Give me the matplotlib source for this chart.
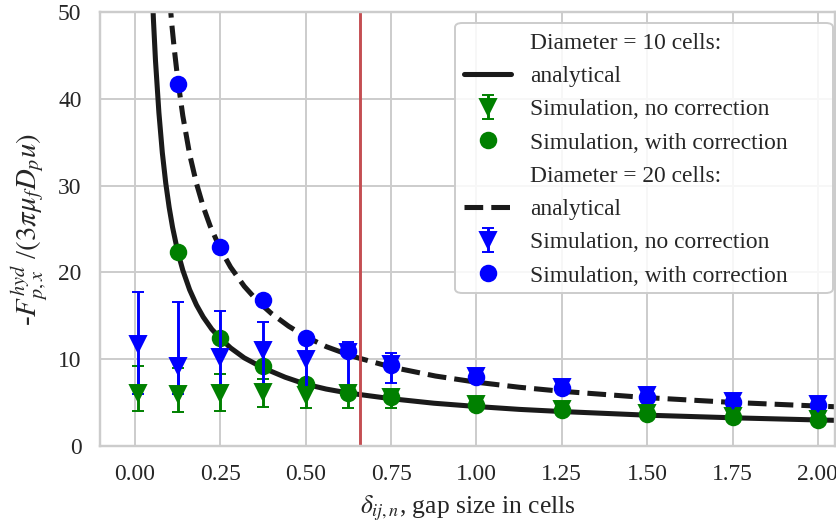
import numpy as np
import matplotlib
matplotlib.use("Agg")
import matplotlib.pyplot as plt
from matplotlib.patches import FancyBboxPatch
import seaborn as sns

# gap sizes of the simulated runs (cells)
gap = [0.01, 0.125, 0.25, 0.375, 0.5, 0.625, 0.75, 1.0, 1.25, 1.5, 1.75, 2.0]
gap_corr = gap[1:]

# Diameter = 10 cells
d10_nocorr = [6.07, 5.95, 6.1, 6.26, 5.9, 6.1, 5.7, 4.85, 4.3, 3.75, 3.45, 3.15]
d10_nocorr_lo = [4.07, 3.95, 4.0, 4.5, 4.4, 4.4, 4.4, 4.7, 4.15, 3.6, 3.3, 3.0]
d10_nocorr_hi = [9.18, 9.0, 8.26, 7.7, 6.8, 6.8, 6.0, 5.0, 4.45, 3.9, 3.6, 3.3]
d10_corr = [22.35, 12.5, 9.25, 7.1, 6.15, 5.6, 4.75, 4.2, 3.65, 3.35, 3.05]

# Diameter = 20 cells
d20_nocorr = [11.75, 9.2, 10.3, 11.06, 10.0, 10.8, 9.5, 8.1, 6.8, 5.85, 5.2, 4.8]
d20_nocorr_lo = [6.0, 6.0, 6.5, 6.6, 6.7, 6.9, 7.3, 7.9, 6.6, 5.65, 5.0, 4.6]
d20_nocorr_hi = [17.7, 16.55, 15.6, 14.3, 12.2, 12.0, 10.75, 8.3, 7.0, 6.05, 5.4, 5.0]
d20_corr = [41.66, 22.96, 16.8, 12.5, 10.98, 9.33, 7.95, 6.65, 5.7, 5.1, 4.7]

# analytical curves
an10_gap = [0.05, 0.054, 0.06, 0.07, 0.08, 0.09, 0.1, 0.11, 0.125, 0.14, 0.16, 0.18, 0.2,
            0.225, 0.25, 0.28, 0.32, 0.375, 0.44, 0.5, 0.56, 0.625, 0.75, 0.875, 1.0,
            1.125, 1.25, 1.5, 1.75, 2.0, 2.06]
an10_val = [52.9, 49.1, 44.4, 38.4, 33.8, 30.3, 27.5, 25.2, 22.4, 20.25, 18.0, 16.25, 14.85,
            13.45, 12.4, 11.3, 10.15, 9.0, 7.92, 7.12, 6.56, 6.1, 5.45, 4.93, 4.55,
            4.22, 3.97, 3.55, 3.25, 3.0, 2.95]
an20_gap = [0.1, 0.108, 0.115, 0.125, 0.14, 0.16, 0.18, 0.2, 0.22, 0.25, 0.28, 0.32, 0.36,
            0.4, 0.45, 0.5, 0.56, 0.64, 0.75, 0.88, 1.0, 1.125, 1.25, 1.5, 1.75, 2.0, 2.06]
an20_val = [52.2, 48.5, 45.75, 42.3, 38.05, 33.6, 30.25, 27.55, 25.35, 22.7, 20.6, 18.4, 16.65,
            15.25, 13.8, 12.6, 11.45, 10.3, 9.1, 8.06, 7.35, 6.77, 6.3, 5.57, 5.02, 4.6, 4.51]

threshold = 0.66

sns.set_theme(style="whitegrid", context="notebook", font_scale=1.1)
plt.rcParams["font.family"] = ["Liberation Serif", "DejaVu Serif"]
plt.rcParams["mathtext.fontset"] = "stix"

fig = plt.figure(figsize=(836 / 140, 529 / 140), dpi=140)
ax = fig.add_axes([100 / 836, 1 - 446 / 529, 735 / 836, 434 / 529])

def yerr(vals, lo, hi):
    v = np.array(vals)
    return [v - np.array(lo), np.array(hi) - v]

h = []
h.append(ax.plot([], [], " ", label="Diameter = 10 cells:")[0])
h.append(ax.plot(an10_gap, an10_val, "-", color="k", lw=2.6, label="analytical")[0])
h.append(ax.errorbar(gap, d10_nocorr, yerr=yerr(d10_nocorr, d10_nocorr_lo, d10_nocorr_hi),
                     fmt="v", color="green", ms=8, capsize=3, lw=1.5,
                     label="Simulation, no correction"))
h.append(ax.plot(gap_corr, d10_corr, "o", color="green", ms=8,
                 label="Simulation, with correction")[0])

h.append(ax.plot([], [], " ", label="Diameter = 20 cells:")[0])
h.append(ax.plot(an20_gap, an20_val, "--", color="k", lw=2.6, label="analytical")[0])
h.append(ax.errorbar(gap, d20_nocorr, yerr=yerr(d20_nocorr, d20_nocorr_lo, d20_nocorr_hi),
                     fmt="v", color="blue", ms=8, capsize=3, lw=1.5,
                     label="Simulation, no correction"))
h.append(ax.plot(gap_corr, d20_corr, "o", color="blue", ms=8,
                 label="Simulation, with correction")[0])

ax.axvline(threshold, color="#c44e52", lw=1.5)

ax.set_xlim(-0.1025, 2.05)
ax.set_ylim(0, 50)
ax.set_xticks(np.arange(0, 2.01, 0.25))
ax.set_xticklabels([f"{t:.2f}" for t in np.arange(0, 2.01, 0.25)])
ax.set_yticks(range(0, 51, 10))
ax.set_xlabel(r"$\delta_{ij,n}$, gap size in cells")
ax.set_ylabel(r"-$F_{p,x}^{hyd}$ /$(3\pi\mu_f D_p u)$", fontsize=14.8)

# legend box: wider than its contents, as in the original
x0, x1 = (455 - 100) / 735, (833 - 100) / 735
ytop, ybot = 1 - (23 - 12) / 434, 1 - (293 - 12) / 434
box = FancyBboxPatch((x0, ybot), x1 - x0, ytop - ybot,
                     boxstyle="round,pad=0,rounding_size=0.01",
                     transform=ax.transAxes, fc=(1, 1, 1, 0.85), ec="0.8", lw=1,
                     zorder=4.5, clip_on=False)
ax.add_patch(box)
leg = ax.legend(handles=h, labels=[x.get_label() for x in h], loc="upper left",
                bbox_to_anchor=(x0, ytop), borderaxespad=0, frameon=False)
leg.set_zorder(5)

fig.savefig("out.png", dpi=140)
